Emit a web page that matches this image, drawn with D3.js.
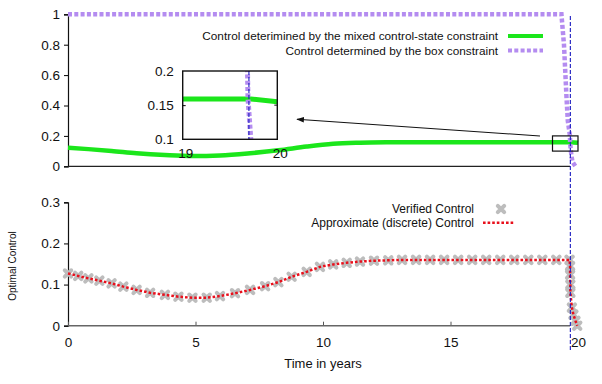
<!DOCTYPE html>
<html>
<head>
<meta charset="utf-8">
<script src="https://cdnjs.cloudflare.com/ajax/libs/d3/7.8.5/d3.min.js"></script>
<style>
  body { margin: 0; background: #fff; }
  text { font-family: "Liberation Sans", Arial, sans-serif; fill: #111; }
</style>
</head>
<body>
<div id="chart"></div>
<script>
// values
var verifiedT = [0, 0.4, 0.8, 1.23, 1.71, 2.17, 2.69, 3.22, 3.8, 4.33, 4.88, 5.44, 5.96, 6.55, 7.14, 7.73,
  8.25, 8.77, 9.36, 9.88, 10.4, 10.93, 11.45, 12.0, 12.56, 13.1, 13.65, 14.2, 14.75, 15.3, 15.85, 16.4,
  16.95, 17.5, 18.05, 18.6, 19.15, 19.67, 19.69, 19.69, 19.7, 19.7, 19.76, 19.82, 19.9, 19.97];
var verifiedU = [0.127, 0.121, 0.115, 0.1095, 0.103, 0.095, 0.087, 0.08, 0.075, 0.0705, 0.068, 0.068, 0.072,
  0.079, 0.087, 0.096, 0.106, 0.119, 0.131, 0.143, 0.149, 0.153, 0.156, 0.158, 0.159, 0.16, 0.16, 0.16,
  0.16, 0.16, 0.16, 0.16, 0.16, 0.16, 0.16, 0.16, 0.16, 0.16, 0.145, 0.124, 0.1, 0.08, 0.044, 0.027, 0.012, 0.0];

// approximate (discrete) control follows the same points
var approxT = verifiedT;
var approxU = verifiedU;

// control from the mixed control-state constraint (top panel)
var mixedT = [0, 0.8, 1.71, 2.69, 3.8, 4.88, 5.96, 7.14, 8.25, 9.36, 10.4, 11.45, 12.56, 13.65, 15.3,
  17.5, 19.15, 19.72, 20];
var mixedU = [0.122, 0.113, 0.101, 0.086, 0.074, 0.067, 0.071, 0.086, 0.105, 0.13, 0.148, 0.155, 0.158,
  0.159, 0.159, 0.159, 0.159, 0.159, 0.155];

// control from the box constraint
var boxT = [0, 19.35, 19.45, 19.55, 19.6, 19.685, 19.69, 19.72, 19.78, 19.9];
var boxU = [1, 1, 0.8, 0.45, 0.3, 0.2, 0.16, 0.1, 0.03, 0];

var switchT = 19.7;

var topTicks = [0, 0.2, 0.4, 0.6, 0.8, 1];
var botTicks = [0, 0.1, 0.2, 0.3];
var xTicks = [0, 5, 10, 15, 20];
var insetYTicks = [0.1, 0.15, 0.2];
var insetXTicks = [19, 20];

var W = 602, H = 384;
var svg = d3.select("#chart").append("svg")
    .attr("width", W).attr("height", H);

var green = "#1be61b", purple = "#b48cf0", red = "#e8101c", grey = "#bdbdbd", blue = "#1c1cc0";

var x = d3.scaleLinear().domain([0, 20]).range([68, 578]);
var yTop = d3.scaleLinear().domain([0, 1]).range([166.3, 14.3]);
var yBot = d3.scaleLinear().domain([0, 0.3]).range([325.7, 202.3]);

function pts(ts, us) { return ts.map(function(t, i) { return [t, us[i]]; }); }

// ---------- top panel ----------
var gTop = svg.append("g");
var ax = gTop.append("g").attr("transform", "translate(68,0)")
    .call(d3.axisLeft(yTop).tickValues(topTicks).tickFormat(d3.format("")).tickSize(4).tickPadding(4));
ax.select(".domain").attr("stroke", "#111").attr("stroke-width", 1.2);
ax.selectAll("text").style("font-size", "13.5px").attr("font-family", null);
gTop.append("line").attr("x1", 68).attr("x2", 570).attr("y1", yTop(0)).attr("y2", yTop(0))
    .attr("stroke", "#222").attr("stroke-width", 1.2);

var lineTop = d3.line().x(function(d) { return x(d[0]); }).y(function(d) { return yTop(d[1]); });
var smoothTop = d3.line().curve(d3.curveMonotoneX)
    .x(function(d) { return x(d[0]); }).y(function(d) { return yTop(d[1]); });

gTop.append("path").datum(pts(mixedT, mixedU)).attr("d", smoothTop)
    .attr("fill", "none").attr("stroke", green).attr("stroke-width", 4.5);
gTop.append("path").datum(pts(boxT, boxU)).attr("d", lineTop)
    .attr("fill", "none").attr("stroke", purple).attr("stroke-width", 4.5).attr("stroke-dasharray", "4,2.3");

// zoom rectangle
gTop.append("rect").attr("x", x(19)).attr("y", yTop(0.2))
    .attr("width", x(20) - x(19)).attr("height", yTop(0.1) - yTop(0.2))
    .attr("fill", "none").attr("stroke", "#111").attr("stroke-width", 1.2);

// arrow
svg.append("defs").append("marker").attr("id", "arr")
    .attr("viewBox", "0 0 10 10").attr("refX", 9).attr("refY", 5)
    .attr("markerWidth", 7).attr("markerHeight", 7).attr("orient", "auto")
    .append("path").attr("d", "M0,1.5L10,5L0,8.5Z").attr("fill", "#111");
gTop.append("line").attr("x1", 540).attr("y1", 136).attr("x2", 297).attr("y2", 119.3)
    .attr("stroke", "#111").attr("stroke-width", 1.1).attr("marker-end", "url(#arr)");

// legend top
var lgT = gTop.append("g").style("font-size", "11.8px");
lgT.append("text").attr("x", 498).attr("y", 40).attr("text-anchor", "end")
    .text("Control deterimined by the mixed control-state constraint");
lgT.append("text").attr("x", 498).attr("y", 54.5).attr("text-anchor", "end")
    .text("Control determined by the box constraint");
lgT.append("line").attr("x1", 508).attr("x2", 543).attr("y1", 36).attr("y2", 36)
    .attr("stroke", green).attr("stroke-width", 4);
lgT.append("line").attr("x1", 508).attr("x2", 543).attr("y1", 50.5).attr("y2", 50.5)
    .attr("stroke", purple).attr("stroke-width", 4).attr("stroke-dasharray", "4,2.3");

// inset
var xi = d3.scaleLinear().domain([19, 20]).range([182.7, 277.3]);
var yi = d3.scaleLinear().domain([0.1, 0.2]).range([139.3, 71]);
var gIn = svg.append("g");
gIn.append("rect").attr("x", 182.7).attr("y", 71).attr("width", 94.6).attr("height", 68.3).attr("fill", "#fff");
svg.select("defs").append("clipPath").attr("id", "inclip")
    .append("rect").attr("x", 182.7).attr("y", 71).attr("width", 94.6).attr("height", 68.3);
var lineIn = d3.line().x(function(d) { return xi(d[0]); }).y(function(d) { return yi(d[1]); });
var gInData = gIn.append("g").attr("clip-path", "url(#inclip)");
gInData.append("path").datum(pts(mixedT, mixedU)).attr("d", lineIn)
    .attr("fill", "none").attr("stroke", green).attr("stroke-width", 5);
gInData.append("path").datum(pts(boxT, boxU)).attr("d", lineIn)
    .attr("fill", "none").attr("stroke", purple).attr("stroke-width", 5).attr("stroke-dasharray", "4,2.3");
gInData.append("line").attr("x1", xi(switchT)).attr("x2", xi(switchT)).attr("y1", 71).attr("y2", 139.3)
    .attr("stroke", blue).attr("stroke-width", 1.1).attr("stroke-dasharray", "4,2");
gIn.append("rect").attr("x", 182.7).attr("y", 71).attr("width", 94.6).attr("height", 68.3)
    .attr("fill", "none").attr("stroke", "#111").attr("stroke-width", 1.4);
var ai = gIn.append("g").attr("transform", "translate(182.7,0)")
    .call(d3.axisRight(yi).tickValues(insetYTicks).tickFormat(d3.format("")).tickSize(3));
ai.select(".domain").remove();
ai.selectAll("text").attr("x", -9).attr("text-anchor", "end").style("font-size", "13.5px").attr("font-family", null);
ai.selectAll(".tick").filter(function(d) { return d !== 0.15; }).select("line").remove();
gIn.append("line").attr("x1", 277.3).attr("x2", 274.3).attr("y1", yi(0.15)).attr("y2", yi(0.15))
    .attr("stroke", "#111");
gIn.selectAll(".ixl").data(insetXTicks).enter().append("text")
    .attr("x", function(d) { return xi(d) + 3; }).attr("y", 158)
    .attr("text-anchor", "middle").style("font-size", "13.5px").text(function(d) { return d; });

// ---------- bottom panel ----------
var gBot = svg.append("g");
var ay = gBot.append("g").attr("transform", "translate(68,0)")
    .call(d3.axisLeft(yBot).tickValues(botTicks).tickFormat(d3.format("")).tickSize(4).tickPadding(4));
ay.select(".domain").attr("stroke", "#111").attr("stroke-width", 1.2);
ay.selectAll("text").style("font-size", "13.5px").attr("font-family", null);

var axb = gBot.append("g").attr("transform", "translate(0," + yBot(0) + ")")
    .call(d3.axisBottom(x).tickValues(xTicks).tickSize(-4).tickPadding(12));
axb.select(".domain").remove();
axb.selectAll(".tick line").attr("stroke", "#555");
axb.selectAll(".tick").filter(function(d) { return d === 20; }).select("line").remove();
axb.selectAll("text").style("font-size", "13.5px").attr("font-family", null);
gBot.append("line").attr("x1", 68).attr("x2", 570).attr("y1", yBot(0)).attr("y2", yBot(0))
    .attr("stroke", "#666").attr("stroke-width", 1.5);

var lineBot = d3.line().x(function(d) { return x(d[0]); }).y(function(d) { return yBot(d[1]); });

var crossPath = "M-3.2,-3.2L3.2,3.2M-3.2,3.2L3.2,-3.2";
gBot.selectAll(".vc").data(pts(verifiedT, verifiedU)).enter().append("path")
    .attr("d", crossPath)
    .attr("transform", function(d) { return "translate(" + x(d[0]) + "," + yBot(d[1]) + ")"; })
    .attr("stroke", grey).attr("stroke-width", 4).attr("stroke-linecap", "round").attr("fill", "none");
gBot.append("path").datum(pts(approxT, approxU)).attr("d", lineBot)
    .attr("fill", "none").attr("stroke", red).attr("stroke-width", 2.5).attr("stroke-dasharray", "2.6,2");

// legend bottom
var lgB = gBot.append("g").style("font-size", "12px");
lgB.append("text").attr("x", 474).attr("y", 213).attr("text-anchor", "end").text("Verified Control");
lgB.append("text").attr("x", 474).attr("y", 227).attr("text-anchor", "end").text("Approximate (discrete) Control");
lgB.append("path").attr("d", crossPath).attr("transform", "translate(501,209)")
    .attr("stroke", grey).attr("stroke-width", 4).attr("stroke-linecap", "round");
lgB.append("line").attr("x1", 483).attr("x2", 515).attr("y1", 222.7).attr("y2", 222.7)
    .attr("stroke", red).attr("stroke-width", 2.5).attr("stroke-dasharray", "2.6,2");

// axis titles
svg.append("text").attr("transform", "translate(16,266) rotate(-90)")
    .attr("text-anchor", "middle").style("font-size", "10px").text("Optimal Control");
svg.append("text").attr("x", 323).attr("y", 368).attr("text-anchor", "middle")
    .style("font-size", "13px").text("Time in years");

// switching time marker across both panels
svg.append("line").attr("x1", x(switchT)).attr("x2", x(switchT)).attr("y1", 16).attr("y2", 352)
    .attr("stroke", blue).attr("stroke-width", 1.1).attr("stroke-dasharray", "4,2");
</script>
</body>
</html>
